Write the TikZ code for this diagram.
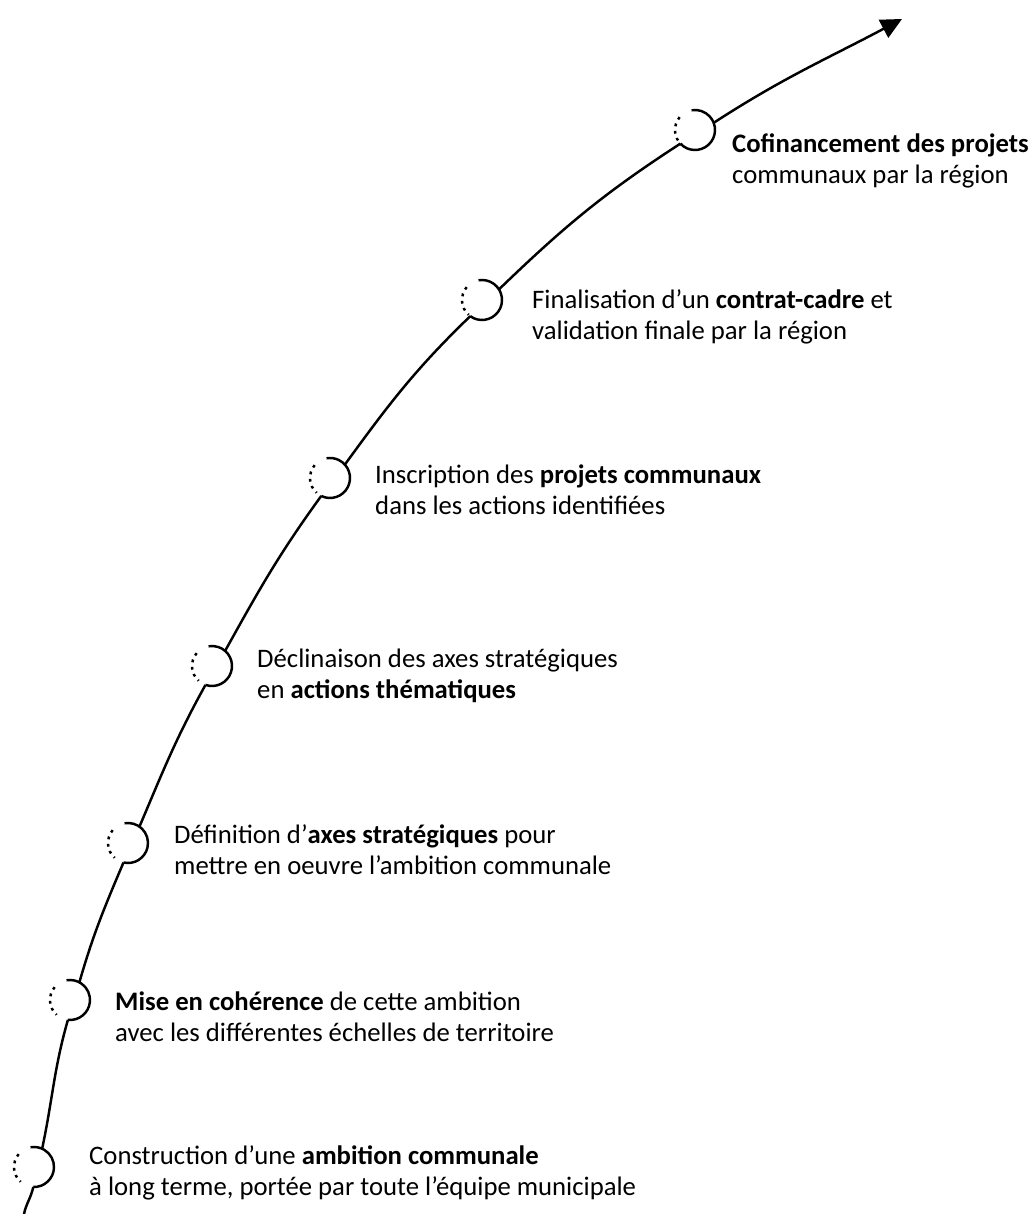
\documentclass[tikz,border=0pt]{standalone}
\usepackage{fontspec}
\setmainfont{Carlito}
\usetikzlibrary{arrows.meta}

\tikzset{
  stagemark/.style={circle,minimum size=0.8cm,inner sep=0pt,outer sep=0pt},
  stagetext/.style={anchor=west,align=left,inner sep=0pt,font=\fontsize{15.2}{17.6}\selectfont},
  dots/.style={dash pattern=on 1.6pt off 2.6pt}
}

\begin{document}
\begin{tikzpicture}[x=0.02cm,y=0.02cm,line width=1.4pt]
\useasboundingbox (0,0) rectangle (1029,1214);
% stages along the path
\node[stagemark] (s1) at (695,1084) {};
\node[stagemark] (s2) at (482,914) {};
\node[stagemark] (s3) at (330,736) {};
\node[stagemark] (s4) at (212,548) {};
\node[stagemark] (s5) at (128,371) {};
\node[stagemark] (s6) at (70,214) {};
\node[stagemark] (s7) at (34,47) {};
\coordinate (start) at (24,0);
\coordinate (tip) at (902,1195);
% half solid, half dotted rings
\foreach \n/\a [evaluate=\a as \ain using int(\a+190-360)] in {1/33,2/44,3/54,4/61,5/67,6/74,7/78}
  {
  \draw (s\n.\ain) arc[start angle=\ain,end angle=100,radius=20];
  \draw[dots] (s\n.140) arc[start angle=140,end angle=228,radius=20];
  }
% the path
\draw (start) to[out=78,in=258] (s7.268);
\draw (s7.66) to[out=78,in=254] (s6.264);
\draw (s6.62) to[out=74,in=247] (s5.257);
\draw (s5.55) to[out=67,in=241] (s4.251);
\draw (s4.49) to[out=61,in=234] (s3.244);
\draw (s3.42) to[out=54,in=224] (s2.234);
\draw (s2.32) to[out=44,in=213] (s1.223);
\draw[-{Triangle[length=0.42cm,width=0.4cm]}] (s1.21) to[out=33,in=208] (tip);
% texts
\node[stagetext] (t1) at (731,1053) {\textbf{Cofinancement des projets}\\communaux par la région};
\node[stagetext] (t2) at (531,897) {Finalisation d’un \textbf{contrat-cadre} et\\validation finale par la région};
\node[stagetext] (t3) at (374,724) {Inscription des \textbf{projets communaux}\\dans les actions identifiées};
\node[stagetext] (t4) at (256,538) {Déclinaison des axes stratégiques\\en \textbf{actions thématiques}};
\node[stagetext] (t5) at (173,364) {Définition d’\textbf{axes stratégiques} pour\\mettre en oeuvre l’ambition communale};
\node[stagetext] (t6) at (114,197) {\textbf{Mise en cohérence} de cette ambition\\avec les différentes échelles de territoire};
\node[stagetext] (t7) at (88,41) {Construction d’une \textbf{ambition communale}\\à long terme, portée par toute l’équipe municipale};
\end{tikzpicture}
\end{document}
